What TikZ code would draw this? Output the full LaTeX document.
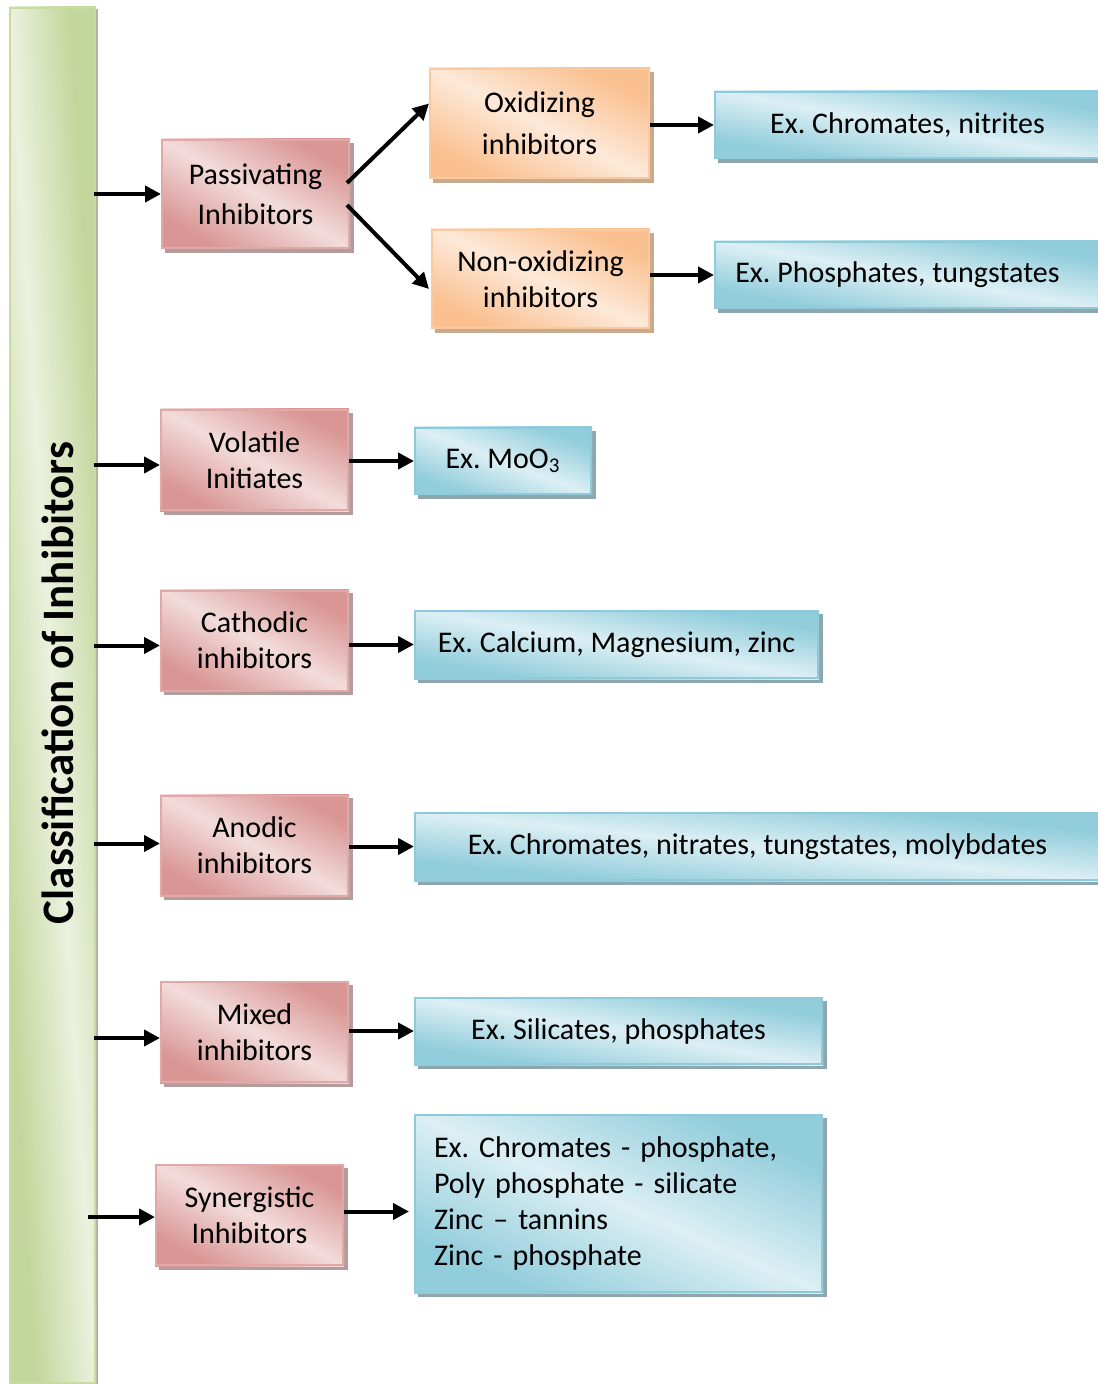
\documentclass[tikz,border=0pt]{standalone}
\usepackage{fontspec}
\setmainfont{Carlito}
\frenchspacing
\usetikzlibrary{arrows.meta,calc}
\pgfdeclarelayer{bgl}
\pgfsetlayers{bgl,main}
\definecolor{rdark}{HTML}{D99694}
\definecolor{rlight}{HTML}{F2DCDB}
\definecolor{rborder}{HTML}{E0A8A6}
\definecolor{rshadow}{HTML}{B39C9C}
\definecolor{odark}{HTML}{FAC090}
\definecolor{olight}{HTML}{FDE9D9}
\definecolor{oborder}{HTML}{F9C9A0}
\definecolor{oshadow}{HTML}{C9A98B}
\definecolor{bdark}{HTML}{92CDDC}
\definecolor{blight}{HTML}{DCEFF4}
\definecolor{bborder}{HTML}{8FCADB}
\definecolor{bshadow}{HTML}{8EA6AE}
\definecolor{gdark}{HTML}{C3D69B}
\definecolor{glight}{HTML}{EBF1DE}
\definecolor{gborder}{HTML}{C9DBA3}
\definecolor{gshadow}{HTML}{A9B799}
% shadow + diagonal gradient behind node #1 (dark corners top-right / bottom-left)
% #2 dark, #3 light, #4 shadow colour, #5 shadow offset
\newcommand\diagbox[5]{%
  \begin{pgfonlayer}{bgl}
    \fill[#4] ($(#1.south west)+(#5,-#5)$) rectangle ($(#1.north east)+(#5,-#5)$);
    \pgfpointdiff{\pgfpointanchor{#1}{south west}}{\pgfpointanchor{#1}{north east}}%
    \pgfgetlastxy{\dfw}{\dfh}%
    \pgfpointanchor{#1}{center}%
    \pgfgetlastxy{\dfx}{\dfy}%
    \pgfmathsetmacro\dfsx{abs(\dfw)/100}%
    \pgfmathsetmacro\dfsy{abs(\dfh)/100}%
    \begin{scope}[transform canvas={shift={(\dfx,\dfy)},xscale=\dfsx,yscale=\dfsy}]
      \shade[top color=#2,bottom color=#2,middle color=#3,shading angle=-45]
        (-50pt,-50pt) rectangle (50pt,50pt);
    \end{scope}
  \end{pgfonlayer}}
\begin{document}
\begin{tikzpicture}[x=0.5pt,y=-0.5pt,
  box/.style={rectangle, line width=1pt, align=center, inner sep=2pt,
    font=\fontsize{15}{18}\selectfont},
  redbox/.style={box, draw=rborder, minimum width=93.5pt, minimum height=50pt},
  orangebox/.style={box, draw=oborder},
  bluebox/.style={box, draw=bborder, minimum height=33pt},
  greenbar/.style={rectangle, line width=1pt, draw=gborder,
    minimum width=42.5pt, minimum height=687.5pt, inner sep=0pt},
  arr/.style={line width=2pt, -{Triangle[length=8pt,width=8pt]}}
]
\useasboundingbox (0,0) rectangle (1097,1384);

% left bar and title
\node[greenbar] (bar) at (52.5,695.5) {};
\diagbox{bar}{gdark}{glight}{gshadow}{1.2pt}
\node[rotate=90, font=\fontsize{22.5}{27}\selectfont\bfseries] (title) at (58,683) {Classification of Inhibitors};

% red boxes
\node[redbox, minimum height=54pt] (P) at (255.5,194) {Passivating\\[2pt]Inhibitors};
\node[redbox] (V) at (254.5,460) {Volatile\\Initiates};
\node[redbox] (C) at (254.5,640.5) {Cathodic\\inhibitors};
\node[redbox] (A) at (254.5,845.5) {Anodic\\inhibitors};
\node[redbox] (M) at (254.5,1032) {Mixed\\inhibitors};
\node[redbox] (S) at (249.5,1215) {Synergistic\\Inhibitors};
\foreach \n in {P,V,C,A,M,S} {\diagbox{\n}{rdark}{rlight}{rshadow}{1.8pt}}

% orange boxes
\node[orangebox, minimum width=109.5pt, minimum height=54.5pt] (O) at (539.5,123.5) {Oxidizing\\[3pt]inhibitors};
\node[orangebox, minimum width=108.5pt, minimum height=49pt] (N) at (540.5,279) {Non-oxidizing\\inhibitors};
\foreach \n in {O,N} {\diagbox{\n}{odark}{olight}{oshadow}{1.8pt}}

% blue boxes
\node[bluebox, minimum width=192.5pt] (B1) at (907.5,125) {Ex. Chromates, nitrites};
\node[bluebox, minimum width=192.5pt] (B2) at (907.5,275) {Ex. Phosphates, tungstates\hspace*{10pt}};
\node[bluebox, minimum width=88pt] (B3) at (503,461) {Ex. MoO\textsubscript{3}};
\node[bluebox, minimum width=201.5pt, minimum height=33.5pt] (B4) at (616.5,644.5) {Ex. Calcium, Magnesium, zinc};
\node[bluebox, minimum width=342.5pt, minimum height=33.5pt] (B5) at (757.5,846.5) {Ex. Chromates, nitrates, tungstates, molybdates};
\node[bluebox, minimum width=203.5pt] (B6) at (618.5,1031) {Ex. Silicates, phosphates};
\node[bluebox, align=left, inner xsep=9.5pt, text width=184.5pt, minimum height=88.5pt] (B7) at (618.5,1203.5)
  {Ex. Chromates - phosphate,\\Poly phosphate - silicate\\Zinc – tannins\\Zinc - phosphate};
\foreach \n in {B1,B2,B3,B4,B5,B6,B7} {\diagbox{\n}{bdark}{blight}{bshadow}{1.8pt}}

% arrows from bar
\draw[arr] ($(bar.east |- P.west)+(-2,0)$) -- (P.west);
\draw[arr] ($(bar.east |- V.west)+(-2,5)$) -- ($(V.west)+(0,5)$);
\draw[arr] ($(bar.east |- C.west)+(-2,5)$) -- ($(C.west)+(0,5)$);
\draw[arr] ($(bar.east |- A.west)+(-2,-2)$) -- ($(A.west)+(0,-2)$);
\draw[arr] ($(bar.east |- M.west)+(-2,6)$) -- ($(M.west)+(0,6)$);
\draw[arr] ($(bar.east |- S.west)+(-8,2)$) -- ($(S.west)+(0,2)$);

% passivating branches
\draw[arr] ($(P.east)+(-3,-11)$) -- ($(O.west)+(0,-20)$);
\draw[arr] ($(P.east)+(-3,11)$) -- ($(N.west)+(-2,10)$);

% to examples
\draw[arr] (O.east |- B1.west) -- (B1.west);
\draw[arr] (N.east |- B2.west) -- (B2.west);
\draw[arr] (B3.west -| V.east) -- (B3.west);
\draw[arr] (B4.west -| C.east) -- (B4.west);
\draw[arr] (B5.west -| A.east) -- (B5.west);
\draw[arr] (B6.west -| M.east) -- (B6.west);
\draw[arr] ($(B7.west -| S.east)+(0,8)$) -- ($(B7.west)+(-5,8)$);
\end{tikzpicture}
\end{document}
